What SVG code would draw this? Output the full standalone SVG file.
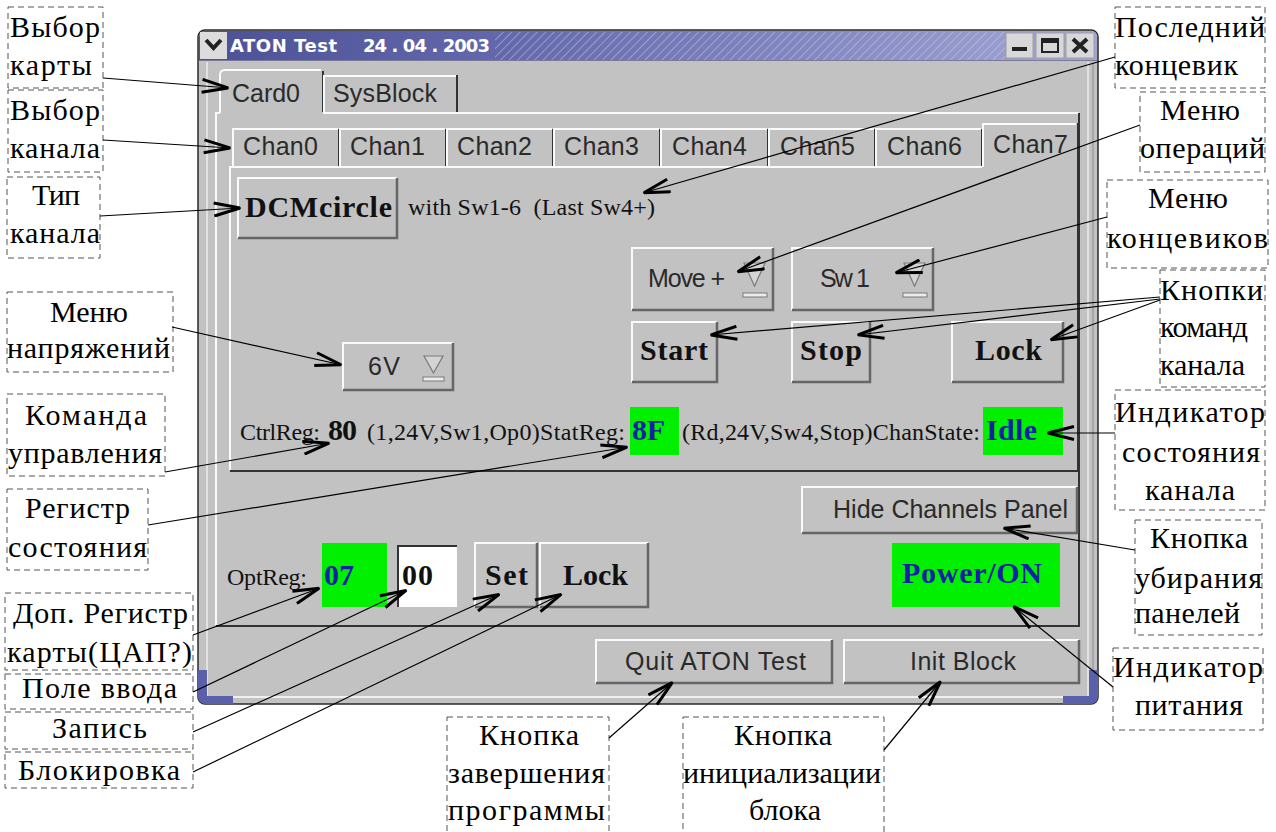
<svg xmlns="http://www.w3.org/2000/svg" width="1276" height="832" viewBox="0 0 1276 832">
<defs>
<linearGradient id="tb" x1="0" y1="0" x2="1" y2="0">
<stop offset="0" stop-color="#4c5196"/>
<stop offset="0.35" stop-color="#6469ad"/>
<stop offset="1" stop-color="#a2a6d4"/>
</linearGradient>
<pattern id="hatch" width="6" height="6" patternUnits="userSpaceOnUse" patternTransform="rotate(45)">
<line x1="0" y1="0" x2="0" y2="6" stroke="#d0d3ee" stroke-width="2" opacity="0.45"/>
</pattern>
<marker id="ah" viewBox="0 0 30 16" refX="28" refY="8" markerWidth="30" markerHeight="16" markerUnits="userSpaceOnUse" orient="auto">
<path d="M1,1.5 L27,8 L1,14.5" fill="none" stroke="#000" stroke-width="3"/>
</marker>
<style>
.ann{fill:none;stroke:#555;stroke-width:1;stroke-dasharray:6,4}
.at{font-family:"Liberation Serif","DejaVu Serif","Times New Roman",serif;font-size:30px;fill:#000}
.ui{font-family:"Liberation Sans",Arial,sans-serif;font-size:25px;fill:#2a2a2a}
.sr{font-family:"Liberation Serif","DejaVu Serif","Times New Roman",serif;font-size:24px;fill:#111}
.sb{font-family:"Liberation Serif","DejaVu Serif","Times New Roman",serif;font-size:30px;font-weight:bold;fill:#111}
.sbb{font-family:"Liberation Serif","DejaVu Serif","Times New Roman",serif;font-size:30px;font-weight:bold;fill:#1020a8}
.bf{fill:#c2c2c2}
.hl{fill:none;stroke:#fbfbfb;stroke-width:2}
.sh{fill:none;stroke:#666;stroke-width:2.5}
.dk{fill:none;stroke:#333;stroke-width:2}
.grn{fill:#00f000}
.cn{fill:none;stroke:#000;stroke-width:1.2;marker-end:url(#ah)}
.ddt{fill:#d4d4d4;stroke:#7a7a7a;stroke-width:1.2}
.ddu{fill:#ececec;stroke:#7a7a7a;stroke-width:1}
</style>
</defs>
<rect width="1276" height="832" fill="#ffffff"/>

<g id="window">
<rect x="198" y="30" width="900" height="674" rx="7" fill="#c2c2c2" stroke="#2a2a2a" stroke-width="1.5"/>
<path d="M199,60 V37 Q199,31 205,31 H1091 Q1097,31 1097,37 V60 Z" fill="url(#tb)"/>
<rect x="495" y="32" width="510" height="28" fill="url(#hatch)"/>
<line x1="199" y1="60.5" x2="1097" y2="60.5" stroke="#7a7a9a" stroke-width="1"/>
<rect x="200" y="32" width="27" height="27" fill="#dcdcdc"/>
<path d="M206,40 L213.5,48 L221,40" fill="none" stroke="#222" stroke-width="4"/>
<text x="230" y="52" font-family="DejaVu Sans,Verdana,sans-serif" font-size="18" font-weight="bold" fill="#ffffff" textLength="107">ATON Test</text>
<text x="363" y="52" font-family="DejaVu Sans,Verdana,sans-serif" font-size="18" font-weight="bold" fill="#ffffff" textLength="127">24 . 04 . 2003</text>
<rect x="1006" y="33" width="27" height="25" fill="#d8d8d8" stroke="#a0a0a0"/>
<rect x="1012" y="47" width="15" height="4" fill="#222"/>
<rect x="1036" y="33" width="28" height="25" fill="#d8d8d8" stroke="#a0a0a0"/>
<rect x="1042" y="39" width="16" height="13" fill="none" stroke="#222" stroke-width="2"/>
<rect x="1042" y="39" width="16" height="4" fill="#222"/>
<rect x="1066" y="33" width="28" height="25" fill="#d8d8d8" stroke="#a0a0a0"/>
<path d="M1073,39 L1087,52 M1087,39 L1073,52" stroke="#222" stroke-width="4"/>
<line x1="207" y1="62" x2="207" y2="697" stroke="#ededed" stroke-width="1.5"/>
<line x1="1088" y1="62" x2="1088" y2="697" stroke="#ededed" stroke-width="1.5"/>
<line x1="1093" y1="62" x2="1093" y2="697" stroke="#8a8a8a" stroke-width="1"/>
<line x1="207" y1="697" x2="1088" y2="697" stroke="#f0f0f0" stroke-width="2"/>
<path d="M198,670 H207 V696 H233 V704 H206 Q198,704 198,696 Z" fill="#5a60aa"/>
<path d="M1098,670 H1089 V696 H1063 V704 H1090 Q1098,704 1098,696 Z" fill="#5a60aa"/>
</g>

<g id="card-tabs">
<path class="bf" d="M220,113 V75 Q220,70 225,70 H322 V113 Z"/>
<path class="hl" d="M220,113 V75 Q220,70 225,70 H321"/>
<path class="dk" d="M323,71 V112"/>
<text class="ui" x="232" y="102" textLength="68">Card0</text>
<path class="hl" d="M324,113 V76 H456"/>
<path class="dk" d="M457,75 V112"/>
<text class="ui" x="333" y="102" textLength="104">SysBlock</text>
</g>

<g id="card-panel">
<path class="hl" d="M216,625 V113 H220 M323,113 H1079"/>
<path class="dk" d="M1079,113 V626 H216"/>
</g>

<g id="chan-tabs">
<path class="hl" d="M233,167 V129 H338"/><path class="dk" d="M339,129 V166"/>
<text class="ui" x="243" y="155" textLength="75">Chan0</text>
<path class="hl" d="M340,167 V129 H445"/><path class="dk" d="M446,129 V166"/>
<text class="ui" x="350" y="155" textLength="75">Chan1</text>
<path class="hl" d="M447,167 V129 H552"/><path class="dk" d="M553,129 V166"/>
<text class="ui" x="457" y="155" textLength="75">Chan2</text>
<path class="hl" d="M554,167 V129 H659"/><path class="dk" d="M660,129 V166"/>
<text class="ui" x="564" y="155" textLength="75">Chan3</text>
<path class="hl" d="M661,167 V129 H767"/><path class="dk" d="M768,129 V166"/>
<text class="ui" x="672" y="155" textLength="75">Chan4</text>
<path class="hl" d="M769,167 V129 H874"/><path class="dk" d="M875,129 V166"/>
<text class="ui" x="780" y="155" textLength="75">Chan5</text>
<path class="hl" d="M876,167 V129 H981"/><path class="dk" d="M982,129 V166"/>
<text class="ui" x="887" y="155" textLength="75">Chan6</text>
<path class="hl" d="M983,167 V124 H1076"/>
<text class="ui" x="993" y="153" textLength="75">Chan7</text>
</g>

<g id="chan-panel">
<path class="hl" d="M230,470 V167 H982"/>
<path class="dk" d="M1078,123 V471 H230"/>
</g>

<g id="btn-type">
<path class="hl" d="M238,238 V178 H397"/><path class="sh" d="M397,178 V238 H238"/>
<text class="sb" x="245" y="217" textLength="147">DCMcircle</text>
</g>
<text class="sr" x="408" y="215" textLength="247" xml:space="preserve">with Sw1-6  (Last Sw4+)</text>

<g id="menu-voltage">
<path class="hl" d="M343,390 V343 H453"/><path class="sh" d="M453,343 V390 H343"/>
<text class="ui" x="368" y="375" textLength="32" fill="#444">6V</text>
<path class="ddt" d="M424,356 H443 L433.5,373 Z"/>
<rect class="ddu" x="423" y="377" width="21" height="4"/>
</g>

<g id="menu-op">
<path class="hl" d="M632,310 V248 H773"/><path class="sh" d="M773,248 V310 H632"/>
<text class="ui" x="648" y="287" textLength="77" fill="#444">Move +</text>
<path class="ddt" d="M744,263 H765 L754.5,286 Z"/>
<rect class="ddu" x="743" y="293" width="24" height="4"/>
</g>

<g id="menu-sw">
<path class="hl" d="M792,310 V248 H933"/><path class="sh" d="M933,248 V310 H792"/>
<text class="ui" x="820" y="287" textLength="50" fill="#444">Sw 1</text>
<path class="ddt" d="M904,263 H925 L914.5,286 Z"/>
<rect class="ddu" x="903" y="293" width="24" height="4"/>
</g>

<g id="btn-start">
<path class="hl" d="M632,382 V322 H717"/><path class="sh" d="M717,322 V382 H632"/>
<text class="sb" x="640" y="360" textLength="68">Start</text>
</g>
<g id="btn-stop">
<path class="hl" d="M792,382 V322 H870"/><path class="sh" d="M870,322 V382 H792"/>
<text class="sb" x="800" y="360" textLength="62">Stop</text>
</g>
<g id="btn-lock">
<path class="hl" d="M952,382 V322 H1063"/><path class="sh" d="M1063,322 V382 H952"/>
<text class="sb" x="975" y="360" textLength="67">Lock</text>
</g>

<g id="status-row">
<text class="sr" x="240" y="440" textLength="80">CtrlReg:</text>
<text class="sb" x="328" y="440" font-size="28" textLength="29">80</text>
<text class="sr" x="367" y="440" textLength="258">(1,24V,Sw1,Op0)StatReg:</text>
<rect class="grn" x="630" y="407" width="49" height="48"/>
<text class="sbb" x="632" y="440" textLength="33">8F</text>
<text class="sr" x="682" y="440" textLength="298">(Rd,24V,Sw4,Stop)ChanState:</text>
<rect class="grn" x="983" y="407" width="80" height="48"/>
<text class="sbb" x="986" y="440" textLength="51">Idle</text>
</g>

<g id="btn-hide">
<path class="hl" d="M802,533 V487 H1077"/><path class="sh" d="M1077,487 V533 H802"/>
<text class="ui" x="833" y="518" textLength="235">Hide Channels Panel</text>
</g>

<g id="power">
<rect class="grn" x="892" y="543" width="168" height="64"/>
<text class="sbb" x="902" y="583" textLength="140">Power/ON</text>
</g>

<g id="optreg">
<text class="sr" x="227" y="585" textLength="80">OptReg:</text>
<rect class="grn" x="322" y="543" width="65" height="64"/>
<text class="sbb" x="324" y="585" textLength="30">07</text>
<rect x="397" y="545" width="60" height="62" fill="#ffffff"/>
<path class="dk" d="M398,607 V546 H457"/>
<text class="sb" x="402" y="585" textLength="31">00</text>
<path class="hl" d="M475,607 V543 H537"/><path class="sh" d="M537,543 V607 H475"/>
<text class="sb" x="485" y="585" textLength="43">Set</text>
<path class="hl" d="M540,607 V543 H648"/><path class="sh" d="M648,543 V607 H540"/>
<text class="sb" x="563" y="585" textLength="65">Lock</text>
</g>

<g id="btn-quit">
<path class="hl" d="M596,683 V640 H832"/><path class="sh" d="M832,640 V683 H596"/>
<text class="ui" x="625" y="670" textLength="181">Quit ATON Test</text>
</g>
<g id="btn-init">
<path class="hl" d="M844,683 V640 H1079"/><path class="sh" d="M1079,640 V683 H844"/>
<text class="ui" x="910" y="670" textLength="106">Init Block</text>
</g>

<g id="ann-card"><rect class="ann" x="8" y="7" width="95" height="81"/>
<text class="at" x="10" y="37" textLength="90">Выбор</text><text class="at" x="10" y="75" textLength="82">карты</text></g>
<g id="ann-chan"><rect class="ann" x="8" y="90" width="95" height="82"/>
<text class="at" x="10" y="120" textLength="90">Выбор</text><text class="at" x="10" y="158" textLength="90">канала</text></g>
<g id="ann-type"><rect class="ann" x="7" y="177" width="93" height="81"/>
<text class="at" x="32" y="205" textLength="48">Тип</text><text class="at" x="10" y="243" textLength="90">канала</text></g>
<g id="ann-volt"><rect class="ann" x="7" y="292" width="166" height="80"/>
<text class="at" x="50" y="322" textLength="78">Меню</text><text class="at" x="7" y="358" textLength="163">напряжений</text></g>
<g id="ann-cmd"><rect class="ann" x="7" y="394" width="158" height="82"/>
<text class="at" x="25" y="425" textLength="122">Команда</text><text class="at" x="8" y="463" textLength="154">управления</text></g>
<g id="ann-stat"><rect class="ann" x="7" y="489" width="141" height="81"/>
<text class="at" x="25" y="518" textLength="105">Регистр</text><text class="at" x="8" y="557" textLength="139">состояния</text></g>
<g id="ann-opt"><rect class="ann" x="5" y="593" width="188" height="77"/>
<text class="at" x="13" y="623" textLength="175">Доп. Регистр</text><text class="at" x="7" y="662" textLength="185">карты(ЦАП?)</text></g>
<g id="ann-input"><rect class="ann" x="5" y="674" width="188" height="35"/>
<text class="at" x="22" y="698" textLength="155">Поле ввода</text></g>
<g id="ann-write"><rect class="ann" x="5" y="712" width="188" height="37"/>
<text class="at" x="52" y="738" textLength="95">Запись</text></g>
<g id="ann-block"><rect class="ann" x="5" y="752" width="188" height="36"/>
<text class="at" x="18" y="780" textLength="162">Блокировка</text></g>

<g id="ann-last"><rect class="ann" x="1115" y="7" width="150" height="81"/>
<text class="at" x="1115" y="37" textLength="150">Последний</text><text class="at" x="1115" y="75" textLength="123">концевик</text></g>
<g id="ann-opmenu"><rect class="ann" x="1140" y="92" width="125" height="80"/>
<text class="at" x="1160" y="120" textLength="80">Меню</text><text class="at" x="1140" y="158" textLength="125">операций</text></g>
<g id="ann-swmenu"><rect class="ann" x="1107" y="180" width="161" height="88"/>
<text class="at" x="1148" y="208" textLength="80">Меню</text><text class="at" x="1107" y="248" textLength="161">концевиков</text></g>
<g id="ann-btns"><rect class="ann" x="1160" y="270" width="105" height="117"/>
<text class="at" x="1160" y="300" textLength="103">Кнопки</text><text class="at" x="1160" y="337" textLength="88">команд</text><text class="at" x="1160" y="375" textLength="85">канала</text></g>
<g id="ann-state"><rect class="ann" x="1115" y="390" width="150" height="120"/>
<text class="at" x="1115" y="422" textLength="150">Индикатор</text><text class="at" x="1122" y="462" textLength="138">состояния</text><text class="at" x="1145" y="500" textLength="90">канала</text></g>
<g id="ann-hide"><rect class="ann" x="1135" y="520" width="127" height="115"/>
<text class="at" x="1150" y="548" textLength="98">Кнопка</text><text class="at" x="1135" y="588" textLength="127">убирания</text><text class="at" x="1135" y="623" textLength="105">панелей</text></g>
<g id="ann-power"><rect class="ann" x="1113" y="648" width="150" height="82"/>
<text class="at" x="1113" y="677" textLength="150">Индикатор</text><text class="at" x="1135" y="715" textLength="108">питания</text></g>

<g id="ann-quit"><rect class="ann" x="447" y="717" width="162" height="130"/>
<text class="at" x="479" y="745" textLength="100">Кнопка</text><text class="at" x="448" y="783" textLength="157">завершения</text><text class="at" x="448" y="820" textLength="157">программы</text></g>
<g id="ann-init"><rect class="ann" x="683" y="717" width="201" height="130"/>
<text class="at" x="734" y="745" textLength="98">Кнопка</text><text class="at" x="683" y="783" textLength="198">инициализации</text><text class="at" x="749" y="820" textLength="72">блока</text></g>

<g id="connectors">
<line class="cn" x1="103" y1="78" x2="229" y2="88"/>
<line class="cn" x1="103" y1="140" x2="231" y2="148"/>
<line class="cn" x1="100" y1="216" x2="241" y2="208"/>
<line class="cn" x1="172" y1="327" x2="342" y2="365"/>
<line class="cn" x1="165" y1="472" x2="330" y2="443"/>
<line class="cn" x1="148" y1="525" x2="628" y2="447"/>
<line class="cn" x1="193" y1="635" x2="320" y2="588"/>
<line class="cn" x1="193" y1="692" x2="407" y2="590"/>
<line class="cn" x1="193" y1="732" x2="500" y2="594"/>
<line class="cn" x1="193" y1="772" x2="562" y2="594"/>
<line class="cn" x1="609" y1="738" x2="673" y2="682"/>
<line class="cn" x1="884" y1="750" x2="941" y2="681"/>
<line class="cn" x1="1113" y1="687" x2="1013" y2="606"/>
<line class="cn" x1="1135" y1="550" x2="1003" y2="528"/>
<line class="cn" x1="1115" y1="433" x2="1047" y2="433"/>
<line class="cn" x1="1160" y1="297" x2="710" y2="335"/>
<line class="cn" x1="1160" y1="299" x2="857" y2="335"/>
<line class="cn" x1="1160" y1="300" x2="1050" y2="340"/>
<line class="cn" x1="1107" y1="217" x2="895" y2="273"/>
<line class="cn" x1="1140" y1="125" x2="737" y2="272"/>
<line class="cn" x1="1115" y1="57" x2="643" y2="193"/>
</g>
</svg>
